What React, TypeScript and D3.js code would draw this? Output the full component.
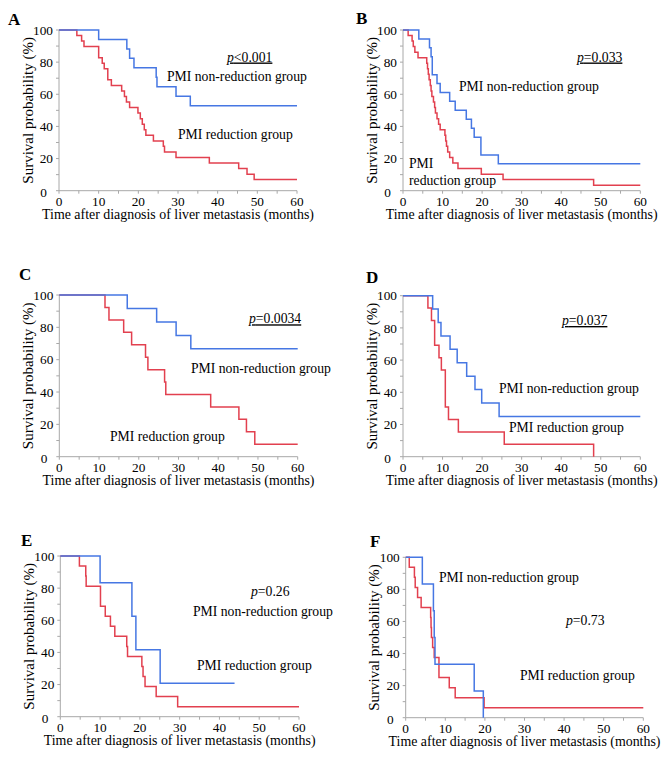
import React from "react";
import * as d3 from "d3";

// ---------- DATA (months, survival %) ----------
const xTicks = [0, 10, 20, 30, 40, 50, 60];
const yTicks = [0, 20, 40, 60, 80, 100];

const aBlueT = [10.0, 17.1, 17.8, 18.9, 24.5, 24.7, 29.5, 33.1];
const aBlueS = [94.1, 88.2, 82.4, 76.5, 70.6, 64.7, 58.8, 52.9];
const aBlueEnd = 60;
const aRedT = [4.5, 5.7, 6.3, 10.0, 10.9, 11.4, 12.3, 13.2, 15.8, 16.5, 17.0, 17.8, 19.9, 20.5, 21.0, 21.5, 21.9, 23.8, 26.3, 26.6, 29.5, 37.9, 45.3, 47.4, 49.2];
const aRedS = [96.6, 93.1, 89.7, 82.8, 79.3, 75.9, 69.0, 65.5, 62.1, 58.6, 55.2, 51.7, 48.3, 44.8, 41.4, 37.9, 34.5, 31.0, 27.6, 24.1, 20.7, 17.2, 13.8, 10.3, 6.9];
const aRedEnd = 60;

const bBlueT = [4.0, 6.7, 7.1, 7.4, 8.6, 9.4, 11.8, 13.2, 16.0, 17.3, 18.0, 19.7, 24.1];
const bBlueS = [94.4, 88.9, 83.3, 72.2, 66.7, 61.1, 55.6, 50.0, 44.4, 38.9, 33.3, 22.2, 16.7];
const bBlueEnd = 60;
const bRedT = [1.3, 2.3, 2.6, 3.0, 3.8, 6.0, 6.2, 6.4, 6.6, 6.9, 7.1, 7.3, 7.7, 8.0, 8.2, 8.6, 9.0, 9.4, 10.6, 10.8, 11.0, 11.3, 11.8, 12.6, 13.9, 19.8, 25.3, 48.2];
const bRedS = [96.6, 93.1, 89.7, 86.2, 82.8, 79.3, 75.9, 72.4, 69.0, 65.5, 62.1, 58.6, 55.2, 51.7, 48.3, 44.8, 41.4, 37.9, 34.5, 31.0, 27.6, 24.1, 20.7, 17.2, 13.8, 10.3, 6.9, 3.4];
const bRedEnd = 60;

const cBlueT = [17.1, 24.5, 29.4, 33.1];
const cBlueS = [91.7, 83.3, 75.0, 66.7];
const cBlueEnd = 60;
const cRedT = [11.5, 12.5, 16.2, 18.2, 21.7, 22.3, 26.5, 26.8, 38.1, 45.2, 47.1, 49.2];
const cRedS = [92.3, 84.6, 76.9, 69.2, 61.5, 53.8, 46.2, 38.5, 30.8, 23.1, 15.4, 7.7];
const cRedEnd = 60;

const dBlueT = [7.5, 8.9, 9.6, 11.9, 13.7, 16.1, 18.2, 19.9, 24.3];
const dBlueS = [91.7, 83.3, 75.0, 66.7, 58.3, 50.0, 41.7, 33.3, 25.0];
const dBlueEnd = 60;
const dRedT = [6.3, 7.2, 8.0, 9.1, 9.7, 10.7, 11.5, 14.0, 25.6, 48.2];
const dRedS = [92.3, 84.6, 69.2, 61.5, 53.8, 30.8, 23.1, 15.4, 7.7, 0];
const dRedEnd = 48.2;

const eBlueT = [10.0, 18.0, 19.0, 25.1];
const eBlueS = [83.3, 62.5, 41.7, 20.8];
const eBlueEnd = 43.8;
const eRedT = [4.8, 6.4, 6.5, 10.1, 11.3, 12.6, 13.7, 16.7, 16.9, 20.5, 20.8, 21.3, 24.1, 29.5];
const eRedS = [93.75, 87.5, 81.25, 68.75, 62.5, 56.25, 50, 43.75, 37.5, 31.25, 25, 18.75, 12.5, 6.25];
const eRedEnd = 60;

const fBlueT = [4.2, 7.0, 7.2, 7.4, 17.3, 19.6];
const fBlueS = [83.3, 66.7, 50.0, 33.3, 16.7, 0];
const fBlueEnd = 19.6;
const fRedT = [0.9, 2.2, 2.4, 3.0, 3.9, 6.3, 6.4, 6.5, 6.8, 7.2, 8.4, 11.0, 12.5, 19.8];
const fRedS = [93.75, 87.5, 81.25, 75, 68.75, 62.5, 56.25, 50, 43.75, 37.5, 25, 18.75, 12.5, 6.25];
const fRedEnd = 60;

const pLabels = ["<0.001", "=0.033", "=0.0034", "=0.037", "=0.26", "=0.73"];
const groupNon = "PMI non-reduction group";
const groupRed = "PMI reduction group";
const xTitle = "Time after diagnosis of liver metastasis (months)";
const yTitle = "Survival probability (%)";

// ---------- LAYOUT ----------
const BLUE = "#4677e3";
const RED = "#e2404f";
const AXIS = "#a8a8a8";
const FONT = "'Liberation Serif', 'Times New Roman', serif";

type Txt = { t: string; x: number; y: number };
const panels = [
  {
    id: "A", L: 59, R: 297, T: 30, B: 190.7, lab: [8, 25],
    blue: [aBlueT, aBlueS, aBlueEnd], red: [aRedT, aRedS, aRedEnd],
    p: { i: 0, x: 227, y: 61.5, u: true },
    texts: [{ t: groupNon, x: 167, y: 81 }, { t: groupRed, x: 178, y: 139.3 }] as Txt[],
  },
  {
    id: "B", L: 403, R: 640.3, T: 30, B: 190.7, lab: [356, 24],
    blue: [bBlueT, bBlueS, bBlueEnd], red: [bRedT, bRedS, bRedEnd],
    p: { i: 1, x: 577, y: 61.5, u: true },
    texts: [{ t: groupNon, x: 459, y: 90.7 }, { t: "PMI", x: 409, y: 167.7 }, { t: "reduction group", x: 409, y: 185 }] as Txt[],
  },
  {
    id: "C", L: 59.3, R: 297.7, T: 295, B: 456.7, lab: [19, 280],
    blue: [cBlueT, cBlueS, cBlueEnd], red: [cRedT, cRedS, cRedEnd],
    p: { i: 2, x: 249, y: 323.3, u: true },
    texts: [{ t: groupNon, x: 191, y: 373.3 }, { t: groupRed, x: 110, y: 441 }] as Txt[],
  },
  {
    id: "D", L: 403, R: 640.3, T: 295.7, B: 456.7, lab: [366, 283],
    blue: [dBlueT, dBlueS, dBlueEnd], red: [dRedT, dRedS, dRedEnd],
    p: { i: 3, x: 562, y: 325, u: true },
    texts: [{ t: groupNon, x: 499, y: 393.3 }, { t: groupRed, x: 509, y: 432.3 }] as Txt[],
  },
  {
    id: "E", L: 60.3, R: 299, T: 556, B: 716.7, lab: [21, 545.7],
    blue: [eBlueT, eBlueS, eBlueEnd], red: [eRedT, eRedS, eRedEnd],
    p: { i: 4, x: 251, y: 596, u: false },
    texts: [{ t: groupNon, x: 193, y: 616 }, { t: groupRed, x: 197, y: 670 }] as Txt[],
  },
  {
    id: "F", L: 405.7, R: 643.3, T: 557.3, B: 717.7, lab: [370, 546.7],
    blue: [fBlueT, fBlueS, fBlueEnd], red: [fRedT, fRedS, fRedEnd],
    p: { i: 5, x: 566, y: 625, u: false },
    texts: [{ t: groupNon, x: 439, y: 581.7 }, { t: groupRed, x: 520, y: 680 }] as Txt[],
  },
];

function toPoints(T: number[], S: number[], end: number): [number, number][] {
  const pts: [number, number][] = [[0, 100]];
  T.forEach((t, i) => pts.push([t, S[i]]));
  const last = pts[pts.length - 1];
  if (end > last[0]) pts.push([end, last[1]]);
  return pts;
}

function Panel({ p }: { p: (typeof panels)[number] }) {
  const x = d3.scaleLinear().domain([0, 60]).range([p.L, p.R]);
  const y = d3.scaleLinear().domain([0, 100]).range([p.B, p.T]);
  const line = d3
    .line<[number, number]>()
    .x((d) => x(d[0]))
    .y((d) => y(d[1]))
    .curve(d3.curveStepAfter);
  const [bT, bS, bE] = p.blue as [number[], number[], number];
  const [rT, rS, rE] = p.red as [number[], number[], number];
  const minorX = d3.range(0, 61, 5);
  const minorY = d3.range(0, 101, 10);
  const cx = (p.L + p.R) / 2;
  const cy = (p.T + p.B) / 2;
  return (
    <g>
      <text x={p.lab[0]} y={p.lab[1]} fontSize={17} fontWeight="bold" fontFamily={FONT}>
        {p.id}
      </text>
      {/* axes */}
      <line x1={p.L} x2={p.R} y1={p.B} y2={p.B} stroke={AXIS} strokeWidth={1} />
      <line x1={p.L} x2={p.L} y1={p.T} y2={p.B} stroke={AXIS} strokeWidth={1} />
      {minorX.map((v) => (
        <line key={"mx" + v} x1={x(v)} x2={x(v)} y1={p.B} y2={p.B + 3} stroke={AXIS} strokeWidth={1} />
      ))}
      {minorY.map((v) => (
        <line key={"my" + v} x1={p.L - 3} x2={p.L} y1={y(v)} y2={y(v)} stroke={AXIS} strokeWidth={1} />
      ))}
      {xTicks.map((v) => (
        <text key={"xt" + v} x={x(v)} y={p.B + 15} textAnchor="middle" fontSize={13.3} fontFamily={FONT}>
          {v}
        </text>
      ))}
      {yTicks.map((v) => (
        <text
          key={"yt" + v}
          x={v === 0 ? p.L - 12 : p.L - 6}
          y={y(v) + (v === 0 ? 1.5 : 0)}
          dy="0.35em"
          textAnchor="end"
          fontSize={13.3}
          fontFamily={FONT}
        >
          {v}
        </text>
      ))}
      <text x={cx} y={p.B + 28.5} textAnchor="middle" fontSize={13.9} fontFamily={FONT}>
        {xTitle}
      </text>
      <text
        transform={`translate(${p.L - 31.5},${cy}) rotate(-90)`}
        textAnchor="middle"
        dy="0.35em"
        fontSize={15}
        fontFamily={FONT}
      >
        {yTitle}
      </text>
      {/* curves */}
      <path d={line(toPoints(rT, rS, rE)) || ""} fill="none" stroke={RED} strokeWidth={1.5} />
      <path d={line(toPoints(bT, bS, bE)) || ""} fill="none" stroke={BLUE} strokeWidth={1.5} />
      {/* annotations */}
      <text
        x={p.p.x}
        y={p.p.y}
        fontSize={13.7}
        fontFamily={FONT}
        style={p.p.u ? { textDecoration: "underline" } : undefined}
      >
        <tspan fontStyle="italic">p</tspan>
        {pLabels[p.p.i]}
      </text>
      {p.texts.map((t, i) => (
        <text key={"tx" + i} x={t.x} y={t.y} fontSize={13.7} fontFamily={FONT}>
          {t.t}
        </text>
      ))}
    </g>
  );
}

export default function App() {
  return (
    <svg
      width={668}
      height={777}
      viewBox="0 0 668 777"
      style={{ position: "absolute", left: 0, top: 0, background: "#fff" }}
    >
      <rect x={0} y={0} width={668} height={777} fill="#fff" />
      {panels.map((p) => (
        <Panel key={p.id} p={p} />
      ))}
    </svg>
  );
}
